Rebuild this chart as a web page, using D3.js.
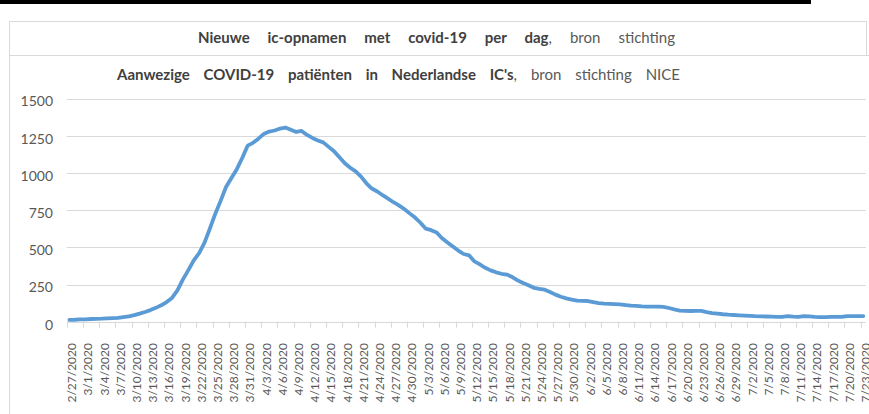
<!DOCTYPE html>
<html>
<head>
<meta charset="utf-8">
<script src="https://cdn.jsdelivr.net/npm/d3@7"></script>
<style>
  body { margin: 0; background: #fff; }
  svg { display: block; font-family: Lato, "Open Sans", sans-serif; }
  .grid line { stroke: #d9d9d9; stroke-width: 1; }
  .axis text { fill: #595959; }
  .title { fill: #404040; font-size: 15px; }
  .title .bold { font-weight: 700; }
  .title .plain { fill: #595959; }
</style>
</head>
<body>
<svg id="chart" width="869" height="414"></svg>
<script>
// dagen 2/27/2020 t/m 7/23/2020
const dates = d3.utcDay
  .range(new Date(Date.UTC(2020, 1, 27)), new Date(Date.UTC(2020, 6, 24)))
  .map(d3.utcFormat("%-m/%-d/%Y"));

// aanwezige covid-19 patienten op de IC
const patients = [
  12, 13, 15, 16, 18, 19, 20, 22, 24, 26,
  31, 36, 44, 54, 65, 78, 93, 110, 132, 160,
  210, 283, 345, 410, 460, 530, 625, 724, 812, 905,
  965, 1025, 1100, 1183, 1202, 1230, 1262, 1278, 1285, 1298,
  1305, 1290, 1275, 1282, 1255, 1235, 1218, 1205, 1175, 1146,
  1105, 1065, 1035, 1010, 975, 930, 895, 875, 850, 827,
  803, 782, 757, 728, 700, 665, 625, 615, 600, 561,
  533, 505, 478, 455, 446, 405, 385, 362, 345, 332,
  322, 317, 300, 278, 260, 245, 228, 220, 215, 200,
  182, 168, 157, 148, 141, 140, 139, 132, 125, 122,
  120, 118, 116, 112, 108, 106, 103, 101, 101, 101,
  100, 92, 83, 75, 73, 72, 73, 73, 64, 58,
  54, 50, 47, 45, 43, 41, 39, 37, 36, 35,
  34, 33, 32, 38, 34, 33, 38, 36, 32, 31,
  31, 32, 32, 33, 38, 38, 38, 38
];

const yTicks = [0, 250, 500, 750, 1000, 1250, 1500];

const headerTitle = [
  { text: "Nieuwe ic-opnamen met covid-19 per dag", bold: true },
  { text: ", bron stichting", bold: false }
];
const chartTitle = [
  { text: "Aanwezige COVID-19 patiënten in Nederlandse IC's", bold: true },
  { text: ", bron stichting NICE", bold: false }
];

const svg = d3.select("#chart");
const plotLeft = 66.7, plotRight = 866, plotTop = 98.5, plotBottom = 321.7;

const x = d3.scaleBand().domain(dates).range([plotLeft, plotRight]).padding(0);
const y = d3.scaleLinear().domain([0, 1500]).range([plotBottom, plotTop]);

svg.append("rect").attr("width", 869).attr("height", 414).attr("fill", "#fff");

// zwarte balk bovenaan
svg.append("rect").attr("x", 0).attr("y", 0).attr("width", 811).attr("height", 4).attr("fill", "#000");

// kaders
svg.append("line").attr("x1", 9.5).attr("x2", 866.5).attr("y1", 21.5).attr("y2", 21.5).attr("stroke", "#d9d9d9");
svg.append("line").attr("x1", 9.5).attr("x2", 9.5).attr("y1", 21.5).attr("y2", 414).attr("stroke", "#d9d9d9");
svg.append("line").attr("x1", 866.5).attr("x2", 866.5).attr("y1", 21.5).attr("y2", 55.5).attr("stroke", "#d9d9d9");
svg.append("line").attr("x1", 9.5).attr("x2", 869).attr("y1", 55.5).attr("y2", 55.5).attr("stroke", "#d9d9d9");

// titels, woordafstand opgerekt tot de breedte van het origineel
const drawTitle = (parts, cx, baseline, width) => {
  const t = svg.append("text").attr("class", "title")
    .attr("x", cx).attr("y", baseline).attr("text-anchor", "middle");
  parts.forEach((p) => {
    t.append("tspan").attr("class", p.bold ? "bold" : "plain").text(p.text);
  });
  const natural = t.node().getComputedTextLength();
  const spaces = parts.map((p) => p.text).join("").split(" ").length - 1;
  t.attr("word-spacing", Math.max(0, (width - natural) / spaces));
};
drawTitle(headerTitle, 436.5, 43, 477);
drawTitle(chartTitle, 398.5, 80, 563);

// rasterlijnen
svg.append("g").attr("class", "grid")
  .selectAll("line").data(yTicks).join("line")
  .attr("x1", plotLeft).attr("x2", plotRight)
  .attr("y1", (d) => Math.round(y(d)) + 0.5).attr("y2", (d) => Math.round(y(d)) + 0.5);

// y-as labels
svg.append("g").attr("class", "axis")
  .selectAll("text").data(yTicks).join("text")
  .attr("x", 53).attr("y", (d) => y(d) + 3)
  .attr("dy", "0.35em").attr("text-anchor", "end")
  .attr("font-size", 14).text((d) => d);

// x-as streepjes en labels, elke 3 dagen
const shown = dates.filter((d, i) => i % 3 === 0);
svg.append("g").attr("class", "grid")
  .selectAll("line").data(shown).join("line")
  .attr("x1", (d) => Math.round(x(d)) + 0.5).attr("x2", (d) => Math.round(x(d)) + 0.5)
  .attr("y1", plotBottom).attr("y2", plotBottom + 6);

svg.append("g").attr("class", "axis")
  .selectAll("text").data(shown).join("text")
  .attr("transform", (d) => `translate(${x(d) + 5.3}, 343) rotate(-90)`)
  .attr("dy", "0.35em").attr("text-anchor", "end")
  .attr("font-size", 12).text((d) => d);

// lijn
const line = d3.line()
  .x((d, i) => x(dates[i]) + x.bandwidth() / 2)
  .y((d) => y(d));

svg.append("path").datum(patients)
  .attr("d", line)
  .attr("fill", "none")
  .attr("stroke", "#5b9bd5")
  .attr("stroke-width", 3.8)
  .attr("stroke-linejoin", "round")
  .attr("stroke-linecap", "round");
</script>
</body>
</html>
